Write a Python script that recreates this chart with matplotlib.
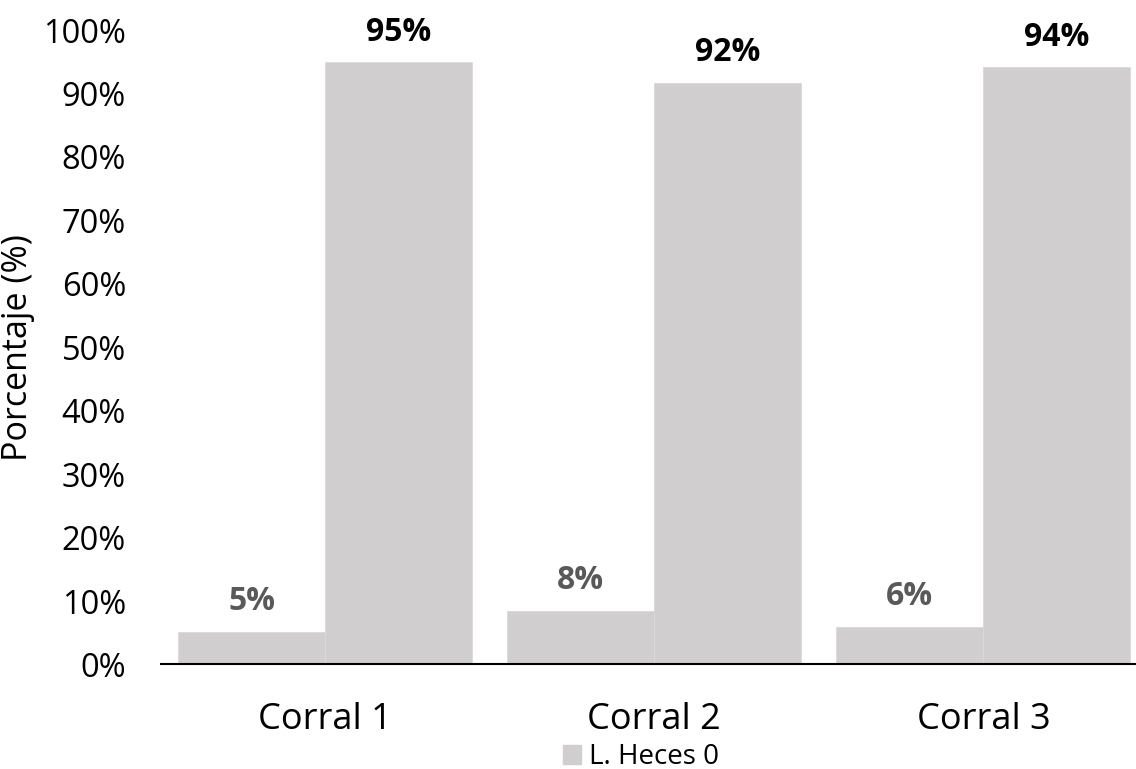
import matplotlib.pyplot as plt
import numpy as np
from matplotlib.patches import Patch

plt.rcParams["font.family"] = ["Open Sans", "DejaVu Sans"]

corrales = ["Corral 1", "Corral 2", "Corral 3"]
heces_0 = [0.051, 0.084, 0.059]
heces_1 = [0.949, 0.916, 0.941]
y_ticks = np.arange(0, 1.01, 0.1)

BAR_COLOR = "#D0CECF"
W = 0.447

fig = plt.figure(figsize=(11.36, 7.69), dpi=100)
ax = fig.add_axes([0.1415, 0.1359, 0.869, 0.825])

x = np.arange(len(corrales))
b0 = ax.bar(x - W / 2, heces_0, W, color=BAR_COLOR, edgecolor="#DAD8D9", linewidth=0.6)
b1 = ax.bar(x + W / 2, heces_1, W, color=BAR_COLOR, edgecolor="#DAD8D9", linewidth=0.6)

for rect, v in zip(b0, heces_0):
    ax.annotate(f"{v:.0%}", (rect.get_x() + rect.get_width() / 2, v),
                xytext=(0, 10), textcoords="offset points", ha="center", va="bottom",
                fontsize=23, fontweight="bold", color="#595959")
for rect, v in zip(b1, heces_1):
    ax.annotate(f"{v:.0%}", (rect.get_x() + rect.get_width() / 2, v),
                xytext=(0, 10), textcoords="offset points", ha="center", va="bottom",
                fontsize=23, fontweight="bold", color="black", annotation_clip=False)

ax.set_xlim(-0.5, 2.5)
ax.set_ylim(0, 1)
ax.set_yticks(y_ticks)
ax.set_yticklabels([f"{t:.0%}" for t in y_ticks])
ax.set_xticks(x)
ax.set_xticklabels(corrales)
ax.tick_params(axis="y", length=0, pad=25, labelsize=23.5)
ax.tick_params(axis="x", length=0, pad=27, labelsize=26)
ax.set_ylabel("Porcentaje (%)", fontsize=24.5, labelpad=6)

for s in ("top", "right", "left"):
    ax.spines[s].set_visible(False)
ax.spines["bottom"].set_linewidth(1.5)
ax.spines["bottom"].set_color("black")

fig.legend(handles=[Patch(color=BAR_COLOR, label="L. Heces 0")],
           loc="center left", bbox_to_anchor=(563 / 1136, 1 - 757 / 769),
           frameon=False, fontsize=20, handlelength=0.65, handleheight=0.65,
           handletextpad=0.3, borderpad=0, borderaxespad=0)

fig.savefig("out.png", dpi=100)
